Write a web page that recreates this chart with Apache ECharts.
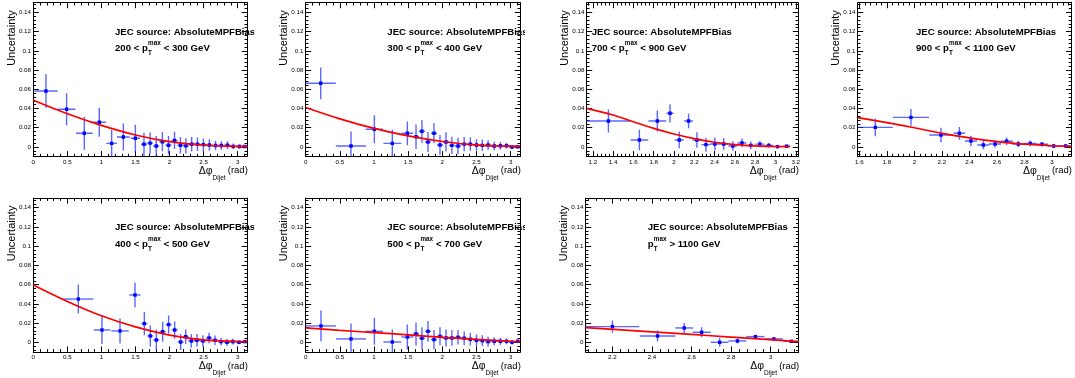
<!DOCTYPE html>
<html><head><meta charset="utf-8">
<script src="https://cdn.jsdelivr.net/npm/echarts@6/dist/echarts.min.js"></script>
<style>html,body{margin:0;padding:0;background:#fff}#c{width:1075px;height:378px}</style>
</head><body><div id="c"></div>
<script>
// ---------- data: [x, y, xErr, yErr] ----------
const p200 = [[0.186,0.0582,0.171,0.0178],[0.489,0.0392,0.13,0.0166],[0.749,0.0142,0.122,0.017],[0.969,0.0257,0.098,0.015],[1.150,0.0038,0.078,0.014],[1.322,0.0104,0.093,0.014],[1.498,0.009,0.068,0.014],[1.625,0.0028,0.044,0.012],[1.715,0.0040,0.044,0.011],[1.805,0.0010,0.044,0.0105],[1.895,0.0055,0.044,0.010],[1.985,0.0018,0.044,0.0095],[2.073,0.0068,0.044,0.009],[2.160,0.0018,0.044,0.0085],[2.240,0.0012,0.044,0.008],[2.325,0.0028,0.044,0.0075],[2.410,0.0028,0.044,0.007],[2.497,0.0024,0.044,0.0065],[2.585,0.0020,0.044,0.006],[2.675,0.0015,0.044,0.005],[2.760,0.0015,0.044,0.0045],[2.850,0.0019,0.044,0.004],[2.935,0.0006,0.044,0.003],[3.025,0.0005,0.044,0.002],[3.105,0.0005,0.036,0.0015]];
const p300 = [[0.220,0.0662,0.22,0.0165],[0.663,0.0010,0.222,0.015],[1.005,0.0184,0.127,0.0146],[1.268,0.0038,0.13,0.014],[1.488,0.0142,0.088,0.0123],[1.615,0.0107,0.044,0.0128],[1.702,0.0163,0.044,0.0118],[1.790,0.0052,0.044,0.0104],[1.878,0.0142,0.044,0.0104],[1.966,0.0021,0.044,0.0104],[2.054,0.0052,0.044,0.010],[2.140,0.0017,0.044,0.009],[2.230,0.0010,0.044,0.0085],[2.320,0.0030,0.044,0.0075],[2.410,0.0030,0.044,0.007],[2.500,0.0020,0.044,0.006],[2.585,0.0017,0.044,0.006],[2.670,0.0020,0.044,0.005],[2.760,0.0010,0.044,0.0045],[2.850,0.0013,0.044,0.004],[2.940,0.0013,0.044,0.003],[3.020,0.0000,0.044,0.002],[3.105,0.0003,0.036,0.0015]];
const p700 = [[1.354,0.0270,0.216,0.012],[1.659,0.0073,0.087,0.0107],[1.836,0.0270,0.087,0.011],[1.961,0.0350,0.035,0.0095],[2.052,0.0073,0.044,0.0087],[2.144,0.0270,0.044,0.0075],[2.226,0.0073,0.043,0.008],[2.315,0.0024,0.044,0.0073],[2.403,0.0031,0.044,0.0068],[2.490,0.0031,0.044,0.006],[2.580,0.0010,0.044,0.005],[2.670,0.0042,0.044,0.0045],[2.757,0.0017,0.044,0.004],[2.846,0.0030,0.044,0.003],[2.934,0.0017,0.044,0.0025],[3.020,0.0004,0.044,0.002],[3.110,0.0007,0.035,0.0015]];
const p900 = [[1.716,0.0204,0.127,0.0092],[1.975,0.0308,0.131,0.0087],[2.193,0.0125,0.085,0.0076],[2.327,0.0142,0.042,0.0066],[2.411,0.0062,0.044,0.0055],[2.501,0.0021,0.044,0.0045],[2.586,0.0031,0.044,0.004],[2.670,0.0059,0.044,0.004],[2.755,0.0031,0.044,0.0035],[2.842,0.0038,0.044,0.003],[2.927,0.0028,0.044,0.0025],[3.012,0.0010,0.044,0.002],[3.099,0.0010,0.043,0.0015]];
const p400 = [[0.661,0.0450,0.22,0.015],[1.008,0.0128,0.122,0.0146],[1.273,0.0118,0.127,0.013],[1.493,0.0492,0.083,0.0128],[1.630,0.0194,0.044,0.012],[1.718,0.0066,0.044,0.011],[1.806,0.0024,0.044,0.0107],[1.899,0.0110,0.044,0.0104],[1.987,0.0184,0.044,0.0094],[2.075,0.0128,0.044,0.009],[2.163,0.0003,0.044,0.0083],[2.237,0.0059,0.044,0.0076],[2.320,0.0014,0.044,0.007],[2.403,0.0021,0.044,0.0065],[2.490,0.0014,0.044,0.006],[2.580,0.0045,0.044,0.0055],[2.668,0.0021,0.044,0.005],[2.756,0.0007,0.044,0.004],[2.844,0.0000,0.044,0.0035],[2.930,0.0007,0.044,0.003],[3.020,0.0000,0.044,0.002],[3.108,0.0007,0.035,0.0015]];
const p500 = [[0.224,0.0170,0.22,0.016],[0.663,0.0035,0.22,0.016],[1.005,0.0114,0.127,0.014],[1.268,0.0003,0.13,0.013],[1.488,0.0055,0.088,0.013],[1.615,0.0087,0.044,0.012],[1.702,0.0042,0.044,0.0114],[1.790,0.0114,0.044,0.0108],[1.878,0.0028,0.044,0.010],[1.966,0.0062,0.044,0.0094],[2.054,0.0045,0.044,0.0088],[2.140,0.0045,0.044,0.0082],[2.230,0.0052,0.044,0.0076],[2.320,0.0042,0.044,0.007],[2.410,0.0031,0.044,0.0065],[2.500,0.0021,0.044,0.006],[2.585,0.0017,0.044,0.0055],[2.670,0.0007,0.044,0.005],[2.760,0.0010,0.044,0.0042],[2.850,0.0010,0.044,0.0036],[2.940,0.0010,0.044,0.003],[3.020,0.0000,0.044,0.0022],[3.105,0.0010,0.036,0.0018]];
const p1100 = [[2.200,0.0163,0.136,0.0064],[2.428,0.0066,0.090,0.0057],[2.563,0.0149,0.045,0.0052],[2.651,0.0104,0.046,0.0052],[2.742,0.0000,0.045,0.0045],[2.832,0.0014,0.045,0.0025],[2.923,0.0059,0.046,0.0015],[3.016,0.0035,0.046,0.001],[3.104,0.0010,0.040,0.001]];

// fit curves: [x, y]
const f200 = [[0,0.0485],[0.5,0.0345],[1,0.0225],[1.5,0.0125],[2,0.0055],[2.5,0.0018],[3,0.0007],[3.1416,0.0006]];
const f300 = [[0,0.041],[0.5,0.0292],[1,0.0193],[1.5,0.0115],[2,0.0057],[2.5,0.002],[3,0.0008],[3.1416,0.0007]];
const f700 = [[1.14,0.0402],[1.4,0.0333],[1.6,0.0263],[1.8,0.0194],[2.0,0.0135],[2.2,0.0087],[2.4,0.0049],[2.6,0.0024],[2.8,0.0011],[3.0,0.0005],[3.1416,0.0004]];
const f900 = [[1.588,0.0305],[1.8,0.0253],[2.0,0.0200],[2.2,0.0142],[2.4,0.0095],[2.6,0.0056],[2.8,0.003],[3.0,0.0013],[3.1416,0.0007]];
const f400 = [[0,0.0596],[0.5,0.0425],[1,0.0276],[1.5,0.016],[2,0.0075],[2.5,0.0025],[3,0.0008],[3.1416,0.0006]];
const f500 = [[0,0.0149],[0.5,0.0124],[1,0.0101],[1.5,0.0077],[2,0.0052],[2.5,0.003],[3,0.0011],[3.1416,0.0008]];
const f1100 = [[2.065,0.0153],[2.3,0.0122],[2.5,0.0095],[2.7,0.0068],[2.9,0.0040],[3.1416,0.0007]];

// tick labels
const yTicks = [0,0.02,0.04,0.06,0.08,0.1,0.12,0.14];
const xTicksFull = [0,0.5,1,1.5,2,2.5,3];
const xTicks700 = [1.2,1.4,1.6,1.8,2,2.2,2.4,2.6,2.8,3,3.2];
const xTicks900 = [1.6,1.8,2,2.2,2.4,2.6,2.8,3];
const xTicks1100 = [2.2,2.4,2.6,2.8,3];

// pT bin labels
const binLo = ['200 < ','300 < ','700 < ','900 < ','400 < ','500 < ',''];
const binHi = [' < 300 GeV',' < 400 GeV',' < 900 GeV',' < 1100 GeV',' < 500 GeV',' < 700 GeV',' > 1100 GeV'];
const sourceLabel = 'JEC source: AbsoluteMPFBias';

// ---------- layout ----------
const PI = Math.PI;
const FONT = '"Liberation Sans", Arial, Helvetica, sans-serif';
const panels = [
  {data:p200, fit:f200, xr:[0,PI], xt:xTicksFull, g:{left:33.3,top:2.7,width:214,height:153.9}, tx:115, clip:254.3},
  {data:p300, fit:f300, xr:[0,PI], xt:xTicksFull, g:{left:305.7,top:2.7,width:214.6,height:153.9}, tx:387.3, clip:525},
  {data:p700, fit:f700, xr:[1.14,3.225], xt:xTicks700, g:{left:586.7,top:2.7,width:211.6,height:153.9}, tx:591.7},
  {data:p900, fit:f900, xr:[1.588,PI], xt:xTicks900, g:{left:857.7,top:2.7,width:213.8,height:153.9}, tx:916},
  {data:p400, fit:f400, xr:[0,PI], xt:xTicksFull, g:{left:33.3,top:198.1,width:214,height:153.8}, tx:115, clip:254.3},
  {data:p500, fit:f500, xr:[0,PI], xt:xTicksFull, g:{left:305.7,top:198.1,width:214.6,height:153.8}, tx:387.3, clip:525},
  {data:p1100, fit:f1100, xr:[2.065,PI], xt:xTicks1100, g:{left:585.7,top:198.1,width:213,height:153.8}, tx:647.7}
];
const yRange = [-0.01, 0.15];

function minorsOf(majors, range){
  const step = (majors[1]-majors[0])/5;
  let v = majors[0];
  while (v - step >= range[0] - 1e-9) v -= step;
  const out = [];
  for (; v <= range[1] + 1e-9; v += step) {
    const r = Math.round(v*1e6)/1e6;
    if (r < range[0] - 1e-9) continue;
    if (!majors.some(m => Math.abs(m-r) < 1e-6)) out.push(r);
  }
  return out;
}
const fmt = v => String(Math.round(v*1e6)/1e6);

const ctx = document.createElement('canvas').getContext('2d');
function tw(s, size, bold){ ctx.font = (bold?'bold ':'') + size + 'px ' + FONT; return ctx.measureText(s).width; }

const grid = [], xAxis = [], yAxis = [], series = [], graphic = [];
const BLACK = '#000';
const ERR = 'rgba(25,45,255,0.72)';

panels.forEach((p, i) => {
  grid.push(Object.assign({containLabel:false}, p.g));
  const xmin = minorsOf(p.xt, p.xr), ymin = minorsOf(yTicks, yRange);
  const bx = {type:'value', gridIndex:i, min:p.xr[0], max:p.xr[1], splitLine:{show:false}, silent:true};
  const by = {type:'value', gridIndex:i, min:yRange[0], max:yRange[1], splitLine:{show:false}, silent:true};
  const line = {show:true, onZero:false, lineStyle:{color:BLACK, width:1}};
  const noLine = {show:false, onZero:false};
  const lab = {customValues:null, formatter:fmt, fontSize:6.2, color:BLACK, fontFamily:FONT, hideOverlap:false};
  xAxis.push(
    Object.assign({}, bx, {position:'bottom', axisLine:line, axisTick:{show:true, inside:true, length:5.5, customValues:p.xt, lineStyle:{color:BLACK}}, axisLabel:Object.assign({}, lab, {customValues:p.xt, margin:2.5})}),
    Object.assign({}, bx, {position:'bottom', axisLine:noLine, axisTick:{show:true, inside:true, length:2.8, customValues:xmin, lineStyle:{color:BLACK}}, axisLabel:{show:false}}),
    Object.assign({}, bx, {position:'top', axisLine:line, axisTick:{show:true, inside:true, length:5.5, customValues:p.xt, lineStyle:{color:BLACK}}, axisLabel:{show:false}}),
    Object.assign({}, bx, {position:'top', axisLine:noLine, axisTick:{show:true, inside:true, length:2.8, customValues:xmin, lineStyle:{color:BLACK}}, axisLabel:{show:false}})
  );
  yAxis.push(
    Object.assign({}, by, {position:'left', axisLine:line, axisTick:{show:true, inside:true, length:5.5, customValues:yTicks, lineStyle:{color:BLACK}}, axisLabel:Object.assign({}, lab, {customValues:yTicks, margin:2.3})}),
    Object.assign({}, by, {position:'left', axisLine:noLine, axisTick:{show:true, inside:true, length:2.8, customValues:ymin, lineStyle:{color:BLACK}}, axisLabel:{show:false}}),
    Object.assign({}, by, {position:'right', axisLine:line, axisTick:{show:true, inside:true, length:5.5, customValues:yTicks, lineStyle:{color:BLACK}}, axisLabel:{show:false}}),
    Object.assign({}, by, {position:'right', axisLine:noLine, axisTick:{show:true, inside:true, length:2.8, customValues:ymin, lineStyle:{color:BLACK}}, axisLabel:{show:false}})
  );
  series.push({
    type:'custom', xAxisIndex:4*i, yAxisIndex:4*i, data:p.data, clip:true, silent:true, z:2,
    encode:{x:0, y:1},
    renderItem:function(params, api){
      const x = api.value(0), y = api.value(1), ex = api.value(2), ey = api.value(3);
      const c = api.coord([x, y]);
      const l = api.coord([x-ex, y]), r = api.coord([x+ex, y]);
      const t = api.coord([x, y+ey]), b = api.coord([x, y-ey]);
      return {type:'group', children:[
        {type:'line', shape:{x1:l[0], y1:l[1], x2:r[0], y2:r[1]}, style:{stroke:ERR, lineWidth:1.4}},
        {type:'line', shape:{x1:t[0], y1:t[1], x2:b[0], y2:b[1]}, style:{stroke:ERR, lineWidth:1.4}},
        {type:'rect', shape:{x:c[0]-1.7, y:c[1]-1.7, width:3.4, height:3.4}, style:{fill:'#0000ff'}}
      ]};
    }
  });
  series.push({
    type:'line', xAxisIndex:4*i, yAxisIndex:4*i, data:p.fit, smooth:0.35,
    showSymbol:false, symbol:'none', clip:true, silent:true, z:3,
    lineStyle:{color:'#ff0000', width:1.7}
  });

  // texts
  const gTop = p.g.top, gBot = p.g.top + p.g.height, gL = p.g.left, gR = p.g.left + p.g.width;
  const txt = (x, y, s, size, bold, align, valign, extra) => Object.assign({
    type:'text', x:x, y:y, z:10,
    style:{text:s, fontSize:size, fontWeight:bold?'bold':'normal', fontFamily:FONT, fill:BLACK,
      align:align, textAlign:align, verticalAlign:valign, textVerticalAlign:valign}
  }, extra||{});
  // y title
  graphic.push(txt(gL - 21.5, gTop + 7.5, 'Uncertainty', 11, false, 'right', 'middle', {rotation:Math.PI/2}));
  // x title
  const yT = gBot + 14.1;
  const xr = gR + 0.5;
  const wr = tw('(rad)', 9.5, false), wsp = tw(' ', 9.5, false), ws = tw('Dijet', 6.5, false);
  graphic.push(txt(xr, yT, '(rad)', 9.5, false, 'right', 'middle'));
  graphic.push(txt(xr - wr - wsp + 0.5, yT + 7.3, 'Dijet', 6.5, false, 'right', 'middle'));
  graphic.push(txt(xr - wr - wsp - ws + 0.5, yT, 'Δφ', 10.5, false, 'right', 'middle'));
  // annotation
  const y1 = gTop + 29.6, y2 = gTop + 45.8;
  graphic.push(txt(p.tx, y1, sourceLabel, 9.6, true, 'left', 'middle'));
  const t1 = binLo[i] + 'p';
  const w1 = tw(t1, 9.6, true), wsup = tw('max', 6.3, true);
  graphic.push(txt(p.tx, y2, t1, 9.6, true, 'left', 'middle'));
  graphic.push(txt(p.tx + w1 + 0.3, y2 - 5, 'max', 6.3, true, 'left', 'middle'));
  graphic.push(txt(p.tx + w1 + 0.3, y2 + 5.2, 'T', 6.3, true, 'left', 'middle'));
  graphic.push(txt(p.tx + w1 + wsup + 0.6, y2, binHi[i], 9.6, true, 'left', 'middle'));
  if (p.clip) {
    graphic.push({type:'rect', z:20, shape:{x:p.clip, y:y1-8, width:12, height:16}, style:{fill:'#fff'}});
  }
});

const chart = echarts.init(document.getElementById('c'), null, {renderer:'canvas'});
chart.setOption({
  animation:false,
  backgroundColor:'#fff',
  grid:grid, xAxis:xAxis, yAxis:yAxis, series:series, graphic:graphic
});
</script>
</body></html>
